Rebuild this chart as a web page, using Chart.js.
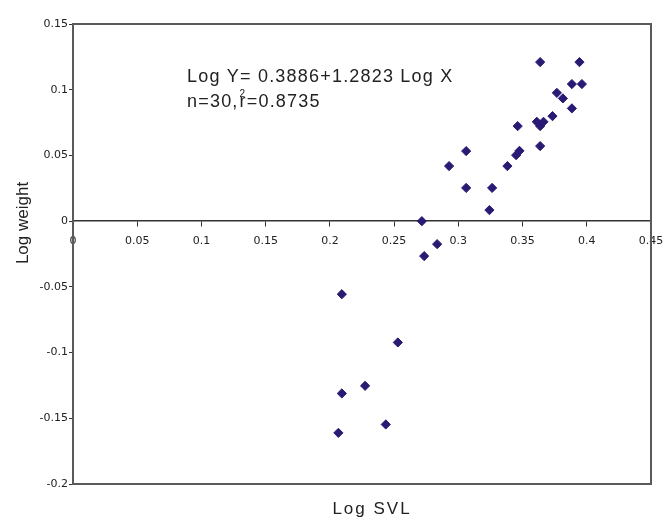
<!DOCTYPE html>
<html>
<head>
<meta charset="utf-8">
<script src="https://cdn.jsdelivr.net/npm/chart.js@4/dist/chart.umd.min.js"></script>
<style>
  html, body { margin: 0; padding: 0; background: #fff; }
  #wrap { width: 666px; height: 523px; }
</style>
</head>
<body>
<div id="wrap"><canvas id="chart" width="666" height="523"></canvas></div>
<script>
// Log SVL (x) vs Log weight (y), 30 specimens
const logSvl = [
  0.3637, 0.3943, 0.3884, 0.3962, 0.3767, 0.3814, 0.3884, 0.3733, 0.3611, 0.3663,
  0.3637, 0.3462, 0.3637, 0.3476, 0.3450, 0.3382, 0.3061, 0.2928, 0.3061, 0.3263,
  0.3242, 0.2716, 0.2734, 0.2835, 0.2093, 0.2529, 0.2274, 0.2093, 0.2435, 0.2066
];
const logWeight = [
  0.1210, 0.1210, 0.1043, 0.1043, 0.0976, 0.0934, 0.0858, 0.0799, 0.0756, 0.0756,
  0.0723, 0.0723, 0.0571, 0.0535, 0.0502, 0.0419, 0.0533, 0.0419, 0.0253, 0.0253,
  0.0084, 0.0000, -0.0266, -0.0175, -0.0556, -0.0923, -0.1253, -0.1311, -0.1547, -0.1611
];

const xTitle = "Log SVL";
const yTitle = "Log weight";
const eqLine1 = "Log Y= 0.3886+1.2823 Log X";
const eqLine2a = "n=30,";
const eqLine2b = "r=0.8735";

const navy = "#2a1a74";

const points = logSvl.map((x, i) => ({ x: x, y: logWeight[i] }));

const fmt = (v) => String(parseFloat(Number(v).toFixed(2)));

const annotations = {
  id: "annotations",
  afterDraw(chart) {
    const ctx = chart.ctx;
    const a = chart.chartArea;
    ctx.save();
    // frame
    ctx.strokeStyle = "#5a5a5a";
    ctx.lineWidth = 2;
    ctx.strokeRect(a.left, a.top, a.right - a.left, a.bottom - a.top);

    ctx.fillStyle = "#222";
    ctx.textBaseline = "alphabetic";
    ctx.textAlign = "left";
    ctx.letterSpacing = "1.2px";
    ctx.font = "18px 'Liberation Sans', Arial, sans-serif";
    ctx.fillText(eqLine1, 187, 82);
    ctx.fillText(eqLine2a, 187, 107);
    const w = ctx.measureText(eqLine2a).width;
    ctx.fillText(eqLine2b, 187 + w + 1, 107);
    ctx.letterSpacing = "0px";
    ctx.font = "10px 'Liberation Sans', Arial, sans-serif";
    ctx.fillText("2", 187 + w + 1, 97);

    ctx.font = "17px 'Liberation Sans', Arial, sans-serif";
    ctx.textAlign = "center";
    ctx.letterSpacing = "2px";
    ctx.fillText(xTitle, 372, 514);
    ctx.letterSpacing = "0px";
    ctx.translate(28, 223);
    ctx.rotate(-Math.PI / 2);
    ctx.fillText(yTitle, 0, 0);
    ctx.restore();
  }
};

const chart = new Chart(document.getElementById("chart"), {
  type: "scatter",
  data: {
    datasets: [{
      data: points,
      pointStyle: "rectRot",
      pointRadius: 4.6,
      pointHoverRadius: 4.6,
      backgroundColor: navy,
      borderColor: navy,
      borderWidth: 1
    }]
  },
  options: {
    responsive: false,
    animation: false,
    layout: { padding: { top: 24, right: 15, bottom: 39, left: 0 } },
    plugins: {
      legend: { display: false },
      tooltip: { enabled: false }
    },
    scales: {
      x: {
        type: "linear",
        position: { y: 0 },
        min: 0,
        max: 0.45,
        afterFit(scale) {
          scale.paddingLeft = 0;
          scale.paddingRight = 0;
        },
        ticks: {
          stepSize: 0.05,
          autoSkip: false,
          maxRotation: 0,
          padding: 8,
          color: "#222",
          font: { family: "'DejaVu Sans'", size: 11 },
          callback: fmt
        },
        grid: {
          drawOnChartArea: false,
          drawTicks: true,
          tickLength: 5,
          color: "#333"
        },
        border: { color: "#333", width: 1.5 }
      },
      y: {
        type: "linear",
        position: "left",
        min: -0.2,
        max: 0.15,
        afterFit(scale) { scale.width = 73; },
        ticks: {
          stepSize: 0.05,
          autoSkip: false,
          padding: 1,
          color: "#222",
          font: { family: "'DejaVu Sans'", size: 11 },
          callback: fmt
        },
        grid: {
          drawOnChartArea: false,
          drawTicks: true,
          tickLength: 4,
          color: "#333"
        },
        border: { color: "#555", width: 2 }
      }
    }
  },
  plugins: [annotations]
});
</script>
</body>
</html>
